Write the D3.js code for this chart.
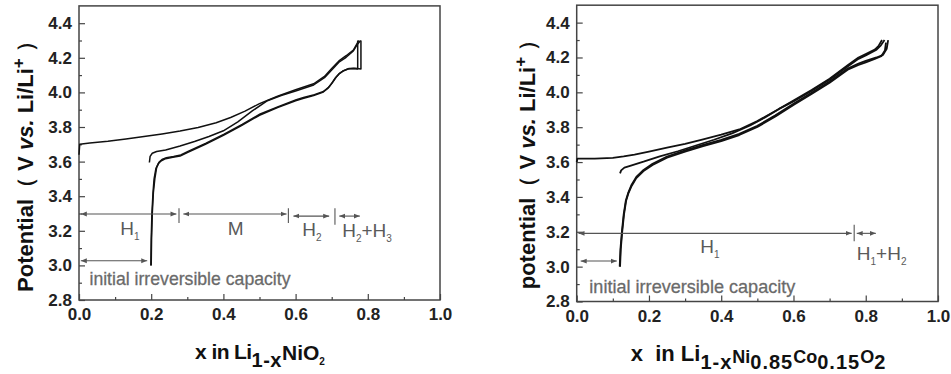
<!DOCTYPE html>
<html>
<head>
<meta charset="utf-8">
<script src="https://d3js.org/d3.v7.min.js"></script>
<style>
  body { margin: 0; background: #fff; }
  svg text { font-family: "Liberation Sans", Arial, sans-serif; }
  .tick text { font-size: 17px; font-weight: bold; fill: #222; }
  .tick line { stroke: #444; stroke-width: 1.2; }
  .domain { stroke: none; }
  .curva { fill: none; stroke: #111; stroke-linejoin: round; }
  .seta { stroke: #555; stroke-width: 1.1; }
  .anot { fill: #5a5a5a; }
</style>
</head>
<body>
<div id="chart"></div>
<script>
"use strict"

var larguraSVG = 951, alturaSVG = 374;

var xTicks = [0, 0.2, 0.4, 0.6, 0.8, 1.0];
var xMinor = [0.1, 0.3, 0.5, 0.7, 0.9];
var yTicks = [2.8, 3.0, 3.2, 3.4, 3.6, 3.8, 4.0, 4.2, 4.4];
var yMinor = [2.9, 3.1, 3.3, 3.5, 3.7, 3.9, 4.1, 4.3];

// ---- Li(1-x)NiO2 : curvas [x, V]
var niCarga1 = [[0, 3.64], [0.002, 3.70], [0.03, 3.707], [0.08, 3.717], [0.13, 3.73], [0.18, 3.745], [0.23, 3.76], [0.28, 3.777], [0.33, 3.797], [0.38, 3.825], [0.42, 3.855], [0.46, 3.892], [0.5, 3.935], [0.55, 3.978], [0.6, 4.015], [0.65, 4.05], [0.68, 4.092], [0.70, 4.138], [0.72, 4.182], [0.74, 4.212], [0.76, 4.245], [0.775, 4.30]];
var niCarga2 = [[0.195, 3.595], [0.197, 3.63], [0.203, 3.648], [0.215, 3.658], [0.24, 3.667], [0.28, 3.69], [0.32, 3.716], [0.36, 3.745], [0.4, 3.778], [0.44, 3.83], [0.48, 3.893], [0.52, 3.95], [0.56, 3.982], [0.6, 4.008], [0.65, 4.043], [0.68, 4.085], [0.70, 4.13], [0.72, 4.175], [0.74, 4.203], [0.76, 4.24], [0.772, 4.28], [0.78, 4.30]];
var niDescarga1 = [[0.772, 4.30], [0.772, 4.135], [0.76, 4.138], [0.745, 4.135], [0.73, 4.122], [0.72, 4.107], [0.71, 4.083], [0.70, 4.052], [0.69, 4.025], [0.675, 4.0], [0.65, 3.982], [0.62, 3.965], [0.6, 3.952], [0.55, 3.912], [0.5, 3.868], [0.45, 3.808], [0.4, 3.752], [0.35, 3.7], [0.3, 3.652], [0.28, 3.632], [0.26, 3.625], [0.24, 3.617], [0.228, 3.605], [0.22, 3.59], [0.213, 3.56], [0.208, 3.5], [0.205, 3.42], [0.202, 3.3], [0.2, 3.15], [0.199, 3.0]];
var niDescarga2 = [[0.781, 4.30], [0.781, 4.135], [0.765, 4.14], [0.748, 4.138], [0.733, 4.126], [0.722, 4.11], [0.712, 4.087], [0.702, 4.057], [0.692, 4.03], [0.677, 4.005], [0.652, 3.987], [0.622, 3.97], [0.602, 3.958], [0.552, 3.918], [0.502, 3.875], [0.452, 3.815], [0.402, 3.759], [0.352, 3.707], [0.302, 3.659], [0.282, 3.638], [0.262, 3.63], [0.242, 3.623], [0.23, 3.612], [0.222, 3.597], [0.215, 3.565], [0.21, 3.5], [0.206, 3.42], [0.203, 3.3], [0.201, 3.15], [0.2, 3.0]];
var niSetas = [[0.005, 0.27, 3.297], [0.289, 0.575, 3.297], [0.594, 0.693, 3.285], [0.721, 0.778, 3.285], [0.005, 0.189, 3.027]];
var niSeparadores = [[0.277, 3.245, 3.33], [0.58, 3.245, 3.33], [0.709, 3.235, 3.33]];
var niRotulos = [
  { x: 0.141, v: 3.176, partes: [["H", 0], ["1", 1]] },
  { x: 0.434, v: 3.176, partes: [["M", 0]] },
  { x: 0.645, v: 3.172, partes: [["H", 0], ["2", 1]] },
  { x: 0.798, v: 3.166, partes: [["H", 0], ["2", 1], ["+H", 0], ["3", 1]] }
];
var niIrrev = { x: 0.029, v: 2.887, largura: 201 };

// ---- Li(1-x)Ni0.85Co0.15O2
var ncCarga1 = [[0, 3.60], [0.002, 3.62], [0.05, 3.62], [0.1, 3.624], [0.13, 3.632], [0.16, 3.643], [0.2, 3.66], [0.25, 3.683], [0.3, 3.704], [0.35, 3.73], [0.4, 3.757], [0.45, 3.787], [0.5, 3.835], [0.55, 3.893], [0.6, 3.953], [0.65, 4.013], [0.7, 4.078], [0.75, 4.155], [0.78, 4.2], [0.8, 4.22], [0.825, 4.245], [0.835, 4.265], [0.845, 4.30]];
var ncCarga2 = [[0.12, 3.535], [0.123, 3.552], [0.132, 3.568], [0.15, 3.58], [0.185, 3.602], [0.23, 3.633], [0.28, 3.662], [0.33, 3.695], [0.38, 3.728], [0.43, 3.765], [0.48, 3.81], [0.52, 3.855], [0.56, 3.905], [0.6, 3.948], [0.65, 4.008], [0.7, 4.072], [0.75, 4.148], [0.78, 4.192], [0.8, 4.212], [0.83, 4.245], [0.842, 4.27], [0.852, 4.30]];
var ncDescarga1 = [[0.862, 4.30], [0.858, 4.25], [0.848, 4.215], [0.83, 4.2], [0.8, 4.18], [0.78, 4.165], [0.75, 4.137], [0.7, 4.062], [0.65, 3.998], [0.6, 3.935], [0.55, 3.868], [0.5, 3.808], [0.45, 3.762], [0.4, 3.727], [0.35, 3.698], [0.3, 3.667], [0.25, 3.632], [0.21, 3.59], [0.185, 3.555], [0.165, 3.515], [0.152, 3.47], [0.142, 3.42], [0.136, 3.38], [0.13, 3.3], [0.125, 3.2], [0.121, 3.1], [0.119, 3.0]];
var ncDescarga2 = [[0.856, 4.285], [0.853, 4.24], [0.843, 4.207], [0.825, 4.192], [0.8, 4.172], [0.78, 4.157], [0.75, 4.13], [0.7, 4.055], [0.65, 3.991], [0.6, 3.928], [0.55, 3.861], [0.5, 3.801], [0.45, 3.755], [0.4, 3.72], [0.35, 3.691], [0.3, 3.66], [0.25, 3.625], [0.21, 3.583], [0.185, 3.548], [0.165, 3.508], [0.152, 3.463], [0.143, 3.42], [0.137, 3.38], [0.131, 3.3], [0.126, 3.2], [0.122, 3.1], [0.12, 3.0]];
var ncSetas = [[0.005, 0.761, 3.191], [0.775, 0.828, 3.191], [0.011, 0.111, 3.032]];
var ncSeparadores = [[0.768, 3.145, 3.24]];
var ncRotulos = [
  { x: 0.369, v: 3.077, partes: [["H", 0], ["1", 1]] },
  { x: 0.844, v: 3.038, partes: [["H", 0], ["1", 1], ["+H", 0], ["2", 1]] }
];
var ncIrrev = { x: 0.035, v: 2.847, largura: 206 };

var svg = d3.select('#chart').append('svg')
    .attr('width', larguraSVG)
    .attr('height', alturaSVG);

var defs = svg.append('defs');
['ini', 'fim'].forEach(function (nome) {
  defs.append('marker')
      .attr('id', 'seta-' + nome)
      .attr('viewBox', '0 0 10 10')
      .attr('refX', nome == 'fim' ? 10 : 0).attr('refY', 5)
      .attr('markerWidth', 6).attr('markerHeight', 6)
      .attr('markerUnits', 'userSpaceOnUse')
      .attr('orient', 'auto')
    .append('path')
      .attr('d', nome == 'fim' ? 'M0,1 L10,5 L0,9 Z' : 'M10,1 L0,5 L10,9 Z')
      .attr('fill', '#555');
});

// escreve um texto feito de pedacos: [texto, tamanho, dy, estilo, espacamento]
function escreve(sel, partes) {
  partes.forEach(function (p) {
    var t = sel.append('tspan').text(p[0]);
    if (p[1]) t.style('font-size', p[1] + 'px');
    if (p[2]) t.attr('dy', p[2]);
    if (p[3]) t.style('font-style', p[3]);
    if (p[4]) t.style('letter-spacing', p[4] + 'px');
  });
}

function desenhaPainel(p) {
  var x = d3.scaleLinear().domain([0, 1]).range([p.esq, p.dir]);
  var y = d3.scaleLinear().domain([2.8, 4.5]).range([p.base, p.base - 1.7 * p.escalaY]);
  var g = svg.append('g');

  g.append('rect')
      .attr('x', x(0)).attr('y', y(4.5))
      .attr('width', x(1) - x(0)).attr('height', y(2.8) - y(4.5))
      .attr('fill', 'none').attr('stroke', '#444').attr('stroke-width', 1.5);

  g.append('g').attr('transform', 'translate(0,' + y(2.8) + ')')
      .call(d3.axisBottom(x).tickValues(xMinor).tickSize(-3).tickFormat(''));
  g.append('g').attr('transform', 'translate(0,' + y(2.8) + ')')
      .call(d3.axisBottom(x).tickValues(xTicks).tickSize(-6).tickPadding(8).tickFormat(d3.format('.1f')));
  g.append('g').attr('transform', 'translate(' + x(0) + ',0)')
      .call(d3.axisLeft(y).tickValues(yMinor).tickSize(-3).tickFormat(''));
  g.append('g').attr('transform', 'translate(' + x(0) + ',0)')
      .call(d3.axisLeft(y).tickValues(yTicks).tickSize(-6).tickPadding(7).tickFormat(d3.format('.1f')));

  var linha = d3.line().x(function (d) { return x(d[0]); }).y(function (d) { return y(d[1]); });
  g.selectAll('path.curva').data(p.curvas).enter().append('path')
      .attr('class', 'curva')
      .attr('stroke-width', p.espessura)
      .attr('d', linha);

  g.selectAll('line.seta').data(p.setas).enter().append('line')
      .attr('class', 'seta')
      .attr('x1', function (d) { return x(d[0]); })
      .attr('x2', function (d) { return x(d[1]); })
      .attr('y1', function (d) { return y(d[2]); })
      .attr('y2', function (d) { return y(d[2]); })
      .attr('marker-start', 'url(#seta-ini)')
      .attr('marker-end', 'url(#seta-fim)');

  g.selectAll('line.sep').data(p.separadores).enter().append('line')
      .attr('class', 'seta')
      .attr('x1', function (d) { return x(d[0]); })
      .attr('x2', function (d) { return x(d[0]); })
      .attr('y1', function (d) { return y(d[1]); })
      .attr('y2', function (d) { return y(d[2]); });

  p.rotulos.forEach(function (r) {
    var t = g.append('text').attr('class', 'anot')
        .attr('x', x(r.x)).attr('y', y(r.v))
        .attr('text-anchor', 'middle')
        .style('font-size', '19px');
    var desloc = 0;
    r.partes.forEach(function (q) {
      var s = t.append('tspan').text(q[0]);
      if (q[1]) { s.style('font-size', '10px').attr('dy', 5 - desloc); desloc = 5; }
      else if (desloc) { s.attr('dy', -desloc); desloc = 0; }
    });
  });

  g.append('text').attr('class', 'anot')
      .attr('x', x(p.irrev.x)).attr('y', y(p.irrev.v))
      .attr('textLength', p.irrev.largura)
      .attr('lengthAdjust', 'spacingAndGlyphs')
      .style('font-size', '19px').style('fill', '#6a6a6a')
      .style('stroke', '#6a6a6a').style('stroke-width', 0.3)
      .text('initial irreversible capacity');

  // titulo do eixo y
  var ty = g.append('text')
      .attr('transform', 'translate(' + p.tituloY[0] + ',' + p.tituloY[1] + ') rotate(-90)')
      .attr('text-anchor', 'middle')
      .attr('dy', '0.35em')
      .style('font-size', '22px').style('font-weight', 'bold').style('fill', '#111');
  escreve(ty, [[p.nomeY], ['\uFF08 '], ['V '], ['vs.', 0, 0, 'italic'], [' Li/Li'], ['+', 17, -9], ['\u00A0\uFF09', 0, 9]]);

  var tx = g.append('text')
      .attr('x', p.tituloX[0]).attr('y', p.tituloX[1])
      .attr('text-anchor', 'middle')
      .style('font-size', '21px').style('font-weight', 'bold').style('fill', '#111');
  escreve(tx, p.partesX);
}

desenhaPainel({
  esq: 79, dir: 440, base: 300, escalaY: 173, espessura: 1.5,
  curvas: [niCarga1, niCarga2, niDescarga1, niDescarga2],
  setas: niSetas, separadores: niSeparadores, rotulos: niRotulos, irrev: niIrrev,
  nomeY: 'Potential', tituloY: [25, 161],
  tituloX: [260, 359],
  partesX: [['x in Li', 0, 0, 0, -0.6], ['1-x', 20, 8, 0, 0.5], ['NiO', 0, -7], ['2', 10, 5]]
});

desenhaPainel({
  esq: 576.7, dir: 938, base: 301.5, escalaY: 174.3, espessura: 1.8,
  curvas: [ncCarga1, ncCarga2, ncDescarga1, ncDescarga2],
  setas: ncSetas, separadores: ncSeparadores, rotulos: ncRotulos, irrev: ncIrrev,
  nomeY: 'potential', tituloY: [527, 159],
  tituloX: [758, 361],
  partesX: [['x\u00A0\u00A0in Li', 22], ['1-x', 20, 8, 0, 1], ['Ni', 18, -6], ['0.85', 20, 6, 0, 1], ['Co', 18, -6], ['0.15', 20, 6, 0, 1], ['O', 18, -6], ['2', 20, 6]]
});
</script>
</body>
</html>
